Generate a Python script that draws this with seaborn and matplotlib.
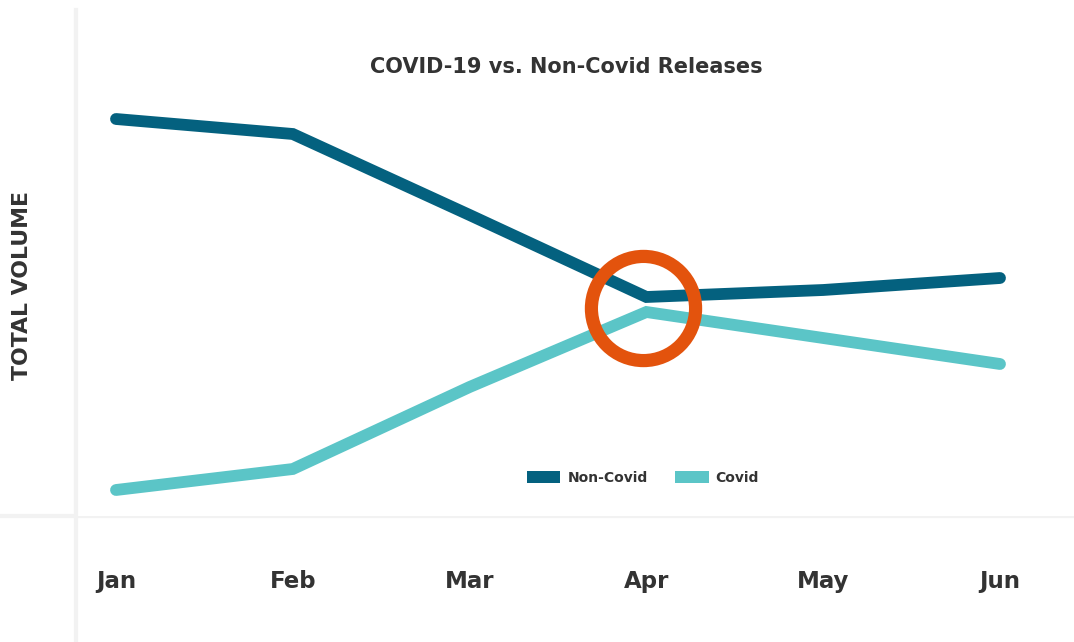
import matplotlib
matplotlib.use("Agg")
import matplotlib.pyplot as plt
import seaborn as sns
import pandas as pd
from matplotlib.patches import Patch
from matplotlib.lines import Line2D

months = ["Jan", "Feb", "Mar", "Apr", "May", "Jun"]
non_covid = [401, 386, 305, 223, 230, 242]
covid = [30, 51, 133, 208, 182, 156]
series_names = ["Non-Covid", "Covid"]
highlight_month = "Apr"
highlight_value = 212

colors = {"Non-Covid": "#04617F", "Covid": "#5BC5C7"}
ring_color = "#E3530D"
text_color = "#333333"
grid_color = "#F2F2F2"

sns.set_theme(style="white")
plt.rcParams["font.family"] = ["DejaVu Sans"]

df = pd.DataFrame({
    "month": months * 2,
    "x": list(range(len(months))) * 2,
    "value": non_covid + covid,
    "series": [series_names[0]] * len(months) + [series_names[1]] * len(months),
})

W, H = 1074, 642
fig = plt.figure(figsize=(W / 100, H / 100), dpi=100)
ax = fig.add_axes([76 / W, 1 - 516 / H, 1 - 76 / W, (516 - 10) / H])

sns.lineplot(data=df, x="x", y="value", hue="series", palette=colors, ax=ax,
             linewidth=8.5, legend=False, sort=False, estimator=None)
for ln in ax.get_lines():
    ln.set_solid_capstyle("round")
    ln.set_solid_joinstyle("miter")

hx = months.index(highlight_month)
ax.plot([hx - 0.02], [highlight_value], marker="o", markersize=75, mfc="none",
        mec=ring_color, mew=9.5, zorder=5)

ax.set_xlim(-40 / 176.8, 5 + 74 / 176.8)
ax.set_ylim(4, 510)
ax.set_xticks(range(len(months)))
ax.set_xticklabels(months)
ax.set_yticks([])
ax.set_xlabel("")
ax.set_ylabel("")
for s in ["top", "right", "bottom"]:
    ax.spines[s].set_visible(False)
ax.spines["left"].set_color(grid_color)
ax.spines["left"].set_linewidth(3)
ax.tick_params(axis="x", length=0, pad=39, labelsize=16.5, labelcolor=text_color)
for lbl in ax.get_xticklabels():
    lbl.set_fontweight("bold")

# left vertical divider extending below the axes
fig.add_artist(Line2D([76 / W, 76 / W], [0, 1 - 10 / H], color=grid_color, lw=3, zorder=0))
# horizontal divider spanning full width
fig.add_artist(Line2D([0, 1], [1 - 516 / H, 1 - 516 / H], color=grid_color, lw=3, zorder=0))

fig.text(566 / W, 1 - 67 / H, "COVID-19 vs. Non-Covid Releases", ha="center", va="center",
         fontsize=15, fontweight="bold", color=text_color)
fig.text(22 / W, 1 - 285 / H, "TOTAL VOLUME", ha="center", va="center", rotation=90,
         fontsize=15.8, fontweight="bold", color=text_color)

handles = [Patch(facecolor=colors[n], edgecolor="none", label=n) for n in series_names]
leg = fig.legend(handles=handles, loc="center", bbox_to_anchor=(643 / W, 1 - 478 / H),
                 ncol=2, frameon=False, handlelength=2.4, handleheight=0.9,
                 columnspacing=2.0, handletextpad=0.5, prop={"weight": "bold", "size": 10})
for t in leg.get_texts():
    t.set_color(text_color)

fig.savefig("out.png", dpi=100, facecolor="white")
